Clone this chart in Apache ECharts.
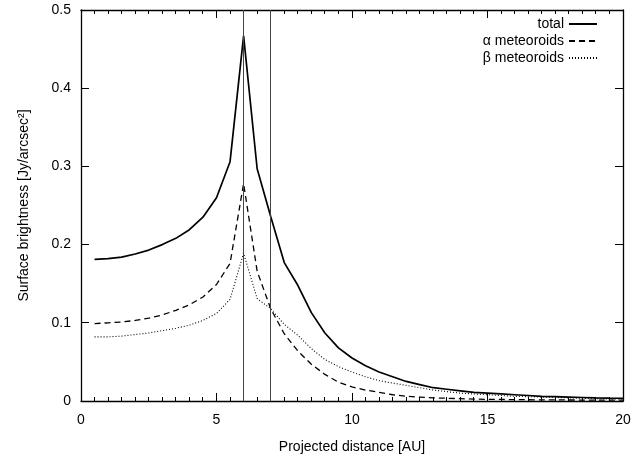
<!DOCTYPE html>
<html>
<head>
<meta charset="utf-8">
<script src="https://cdn.jsdelivr.net/npm/echarts@6/dist/echarts.min.js"></script>
<style>html,body{margin:0;padding:0;background:#fff}#c{width:634px;height:461px}</style>
</head>
<body>
<div id="c"></div>
<script>
const xVals = [0.5,1,1.5,2,2.5,3,3.5,4,4.5,5,5.5,6,6.5,7,7.5,8,8.5,9,9.5,10,10.5,11,11.5,12,12.5,13,13.5,14,14.5,15,15.5,16,16.5,17,17.5,18,18.5,19,19.5,20];
const totalVals = [0.181,0.182,0.184,0.188,0.193,0.200,0.208,0.219,0.235,0.260,0.306,0.467,0.297,0.236,0.177,0.148,0.113,0.087,0.068,0.055,0.045,0.037,0.031,0.025,0.021,0.017,0.015,0.013,0.011,0.010,0.009,0.008,0.007,0.006,0.0055,0.005,0.0045,0.004,0.0037,0.0035];
const alphaVals = [0.099,0.100,0.101,0.103,0.106,0.110,0.116,0.123,0.133,0.149,0.176,0.278,0.166,0.118,0.086,0.064,0.047,0.034,0.024,0.018,0.014,0.011,0.008,0.006,0.005,0.004,0.0035,0.003,0.0025,0.002,0.002,0.0018,0.0016,0.0015,0.0014,0.0013,0.0012,0.0011,0.001,0.001];
const betaVals = [0.082,0.082,0.083,0.085,0.087,0.090,0.093,0.097,0.103,0.112,0.130,0.189,0.131,0.118,0.098,0.084,0.067,0.053,0.044,0.037,0.031,0.026,0.023,0.020,0.017,0.014,0.012,0.010,0.009,0.008,0.007,0.006,0.0055,0.005,0.0045,0.004,0.0035,0.003,0.0027,0.0025];
const vLines = [6, 7];
const seriesNames = ['total', 'α meteoroids', 'β meteoroids'];
const xTicks = {min: 0, max: 20, interval: 5};
const yTicks = {min: 0, max: 0.5, interval: 0.1};
const xMajorTicks = [0, 5, 10, 15, 20];
const xMinorTicks = [0.5,1,1.5,2,2.5,3,3.5,4,4.5,5.5,6,6.5,7,7.5,8,8.5,9,9.5,10.5,11,11.5,12,12.5,13,13.5,14,14.5,15.5,16,16.5,17,17.5,18,18.5,19,19.5];
const yMajorTicks = [0, 0.1, 0.2, 0.3, 0.4, 0.5];

const font = "'Liberation Sans', Arial, Helvetica, sans-serif";
const pairs = v => xVals.map((x, i) => [x, v[i]]);
const chart = echarts.init(document.getElementById('c'), null, {renderer: 'canvas'});
const crisp = v => Math.round(v - 0.5) + 0.5;
const stroke = {stroke: '#000', lineWidth: 1};

function xTickRenderer(len) {
  return function (params, api) {
    const x = api.value(0);
    const b = api.coord([x, yTicks.min]);
    const t = api.coord([x, yTicks.max]);
    const px = crisp(b[0]);
    return {type: 'group', children: [
      {type: 'line', shape: {x1: px, y1: b[1], x2: px, y2: b[1] - len}, style: stroke},
      {type: 'line', shape: {x1: px, y1: t[1], x2: px, y2: t[1] + len}, style: stroke}
    ]};
  };
}
function yTickRenderer(len) {
  return function (params, api) {
    const y = api.value(1);
    const l = api.coord([xTicks.min, y]);
    const r = api.coord([xTicks.max, y]);
    const py = crisp(l[1]);
    return {type: 'group', children: [
      {type: 'line', shape: {x1: l[0], y1: py, x2: l[0] + len, y2: py}, style: stroke},
      {type: 'line', shape: {x1: r[0], y1: py, x2: r[0] - len, y2: py}, style: stroke}
    ]};
  };
}

chart.setOption({
  animation: false,
  textStyle: {fontFamily: font},
  grid: {left: 81, right: 11, top: 10, bottom: 60},
  legend: {
    orient: 'vertical', right: 31, top: 12, align: 'right',
    itemWidth: 28, itemHeight: 10, itemGap: 3,
    itemStyle: {opacity: 0},
    textStyle: {fontFamily: font, fontSize: 14, color: '#000'},
    data: seriesNames.map(n => ({name: n}))
  },
  xAxis: [
    {
      type: 'value', min: xTicks.min, max: xTicks.max, interval: xTicks.interval, position: 'bottom',
      splitLine: {show: false},
      axisLine: {show: true, onZero: false, lineStyle: {color: '#000', width: 1.3}},
      axisTick: {show: false}, minorTick: {show: false},
      name: 'Projected distance [AU]', nameLocation: 'middle', nameGap: 39,
      nameTextStyle: {fontFamily: font, fontSize: 14, color: '#000'},
      axisLabel: {show: true, fontFamily: font, fontSize: 14, color: '#000', margin: 12}
    },
    {
      type: 'value', min: xTicks.min, max: xTicks.max, interval: xTicks.interval, position: 'top',
      splitLine: {show: false},
      axisLine: {show: true, onZero: false, lineStyle: {color: '#000', width: 1.3}},
      axisTick: {show: false}, minorTick: {show: false}, axisLabel: {show: false}
    }
  ],
  yAxis: [
    {
      type: 'value', min: yTicks.min, max: yTicks.max, interval: yTicks.interval, position: 'left',
      splitLine: {show: false},
      axisLine: {show: true, onZero: false, lineStyle: {color: '#000', width: 1.3}},
      axisTick: {show: false},
      name: 'Surface brightness [Jy/arcsec²]', nameLocation: 'middle', nameGap: 50, nameRotate: 90,
      nameTextStyle: {fontFamily: font, fontSize: 14, color: '#000'},
      axisLabel: {show: true, fontFamily: font, fontSize: 14, color: '#000', margin: 10}
    },
    {
      type: 'value', min: yTicks.min, max: yTicks.max, interval: yTicks.interval, position: 'right',
      splitLine: {show: false},
      axisLine: {show: true, onZero: false, lineStyle: {color: '#000', width: 1.3}},
      axisTick: {show: false}, axisLabel: {show: false}
    }
  ],
  series: [
    {
      name: seriesNames[0], type: 'line', data: pairs(totalVals), symbol: 'none',
      xAxisIndex: 0, yAxisIndex: 0,
      lineStyle: {color: '#000', width: 1.7, type: 'solid'}, itemStyle: {color: '#000'},
      markLine: {
        silent: true, symbol: 'none', label: {show: false},
        lineStyle: {color: '#444', width: 1, type: 'solid'},
        data: vLines.map(v => ({xAxis: v}))
      }
    },
    {
      name: seriesNames[1], type: 'line', data: pairs(alphaVals), symbol: 'none',
      xAxisIndex: 0, yAxisIndex: 0,
      lineStyle: {color: '#000', width: 1.3, type: [6, 4]}, itemStyle: {color: '#000'}
    },
    {
      name: seriesNames[2], type: 'line', data: pairs(betaVals), symbol: 'none',
      xAxisIndex: 0, yAxisIndex: 0,
      lineStyle: {color: '#000', width: 1.1, type: [1, 2]}, itemStyle: {color: '#000'}
    },
    {
      name: 'xMajorTicks', type: 'custom', silent: true, clip: false, xAxisIndex: 0, yAxisIndex: 0,
      data: xMajorTicks.map(x => [x, yTicks.min]), renderItem: xTickRenderer(8)
    },
    {
      name: 'xMinorTicks', type: 'custom', silent: true, clip: false, xAxisIndex: 0, yAxisIndex: 0,
      data: xMinorTicks.map(x => [x, yTicks.min]), renderItem: xTickRenderer(4)
    },
    {
      name: 'yMajorTicks', type: 'custom', silent: true, clip: false, xAxisIndex: 0, yAxisIndex: 0,
      data: yMajorTicks.map(y => [xTicks.min, y]), renderItem: yTickRenderer(8)
    }
  ]
});
</script>
</body>
</html>
